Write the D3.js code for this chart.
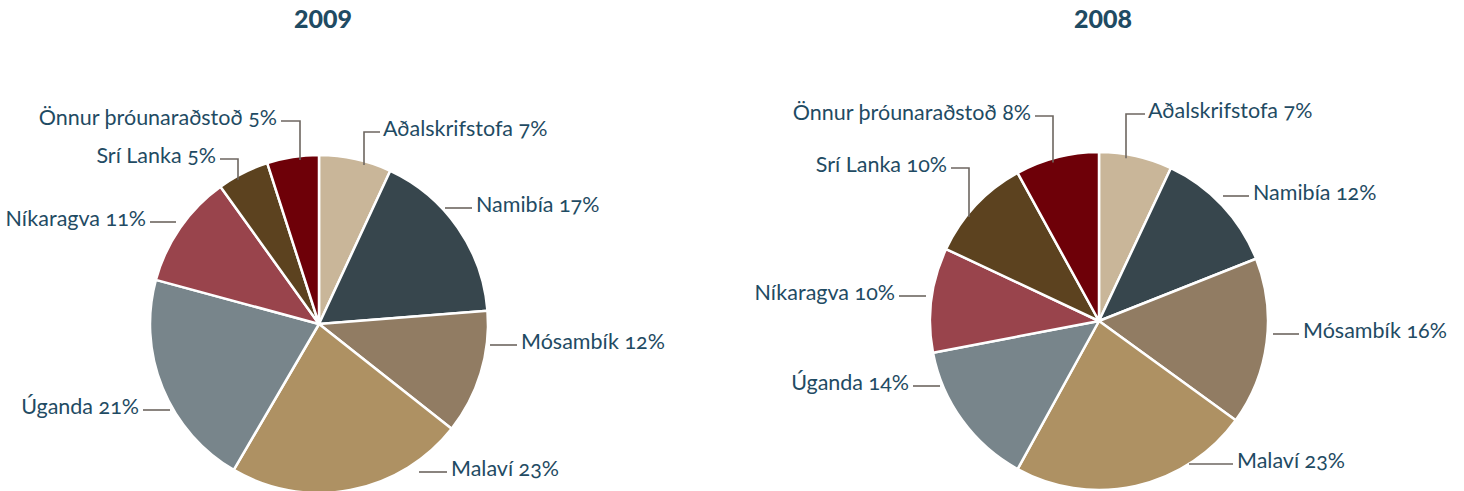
<!DOCTYPE html>
<html>
<head>
<meta charset="utf-8">
<script src="https://cdn.jsdelivr.net/npm/d3@7"></script>
<style>
  body { margin: 0; background: #fff; }
  svg { display: block; }
  .lbl { font-family: Lato, "Open Sans", sans-serif; font-size: 21.5px; fill: #1f4b63; font-variant-numeric: oldstyle-nums; }
  .ttl { font-family: Lato, sans-serif; font-weight: 900; font-size: 25px; fill: #1f4b63; }
</style>
</head>
<body>
<div id="chart"></div>
<script>
// categories, same order for both years (clockwise from 12 o'clock)
const categories = ["Aðalskrifstofa", "Namibía", "Mósambík", "Malaví", "Úganda", "Níkaragva", "Srí Lanka", "Önnur þróunaraðstoð"];
const colors = ["#c9b699", "#37464d", "#917c63", "#ae9163", "#78858b", "#99444c", "#5c421f", "#6e0008"];

const years = ["2009", "2008"];
const values2009 = [7, 17, 12, 23, 21, 11, 5, 5];
const values2008 = [7, 12, 16, 23, 14, 10, 10, 8];

// label layout, relative to pie centre: kind "h" = straight leader, "e" = elbow leader
// [kind, textX, textY(baseline), leaderX or leader length]
const layout2009 = [
  ["e", 64, -188, 45], ["h", 157, -112, 27], ["h", 202, 25, 27], ["h", 132, 152, 28],
  ["h", -180, 90, 27], ["h", -173, -98, 26], ["e", -103, -161, -81], ["e", -42, -199, -19]
];
const layout2008 = [
  ["e", 49, -203, 27], ["h", 154, -121, 26], ["h", 204, 17, 26], ["h", 138, 147, 44],
  ["h", -190, 69, 27], ["h", -204, -21, 27], ["e", -152, -149, -130], ["e", -68, -201, -46]
];

const W = 1464, H = 491, R = 169;
const pies = [
  { year: years[0], values: values2009, layout: layout2009, cx: 319, cy: 324 },
  { year: years[1], values: values2008, layout: layout2008, cx: 1099, cy: 321 }
];

const svg = d3.select("#chart").append("svg")
  .attr("width", W)
  .attr("height", H);

const pie = d3.pie().sort(null).value(d => d);
const arc = d3.arc().innerRadius(0).outerRadius(R);
const lineCol = "#6d6660";

pies.forEach(function (p) {
  svg.append("text")
    .attr("class", "ttl")
    .attr("x", p.cx + 4)
    .attr("y", 28)
    .attr("text-anchor", "middle")
    .text(p.year);

  const g = svg.append("g").attr("transform", "translate(" + p.cx + "," + p.cy + ")");

  g.selectAll("path")
    .data(pie(p.values))
    .enter().append("path")
    .attr("d", arc)
    .attr("fill", (d, i) => colors[i])
    .attr("stroke", "#fff")
    .attr("stroke-width", 2.5)
    .attr("stroke-linejoin", "round");

  p.layout.forEach(function (l, i) {
    const kind = l[0], tx = l[1], ty = l[2];
    const right = tx > 0;
    const label = categories[i] + " " + p.values[i] + "%";
    const ly = ty - 4;
    let pts;
    if (kind === "h") {
      const len = l[3];
      const x2 = right ? tx - 4 : tx + 4;
      const x1 = right ? x2 - len : x2 + len;
      pts = [[x1, ly], [x2, ly]];
    } else {
      const vx = l[3];
      const edgeY = -Math.sqrt(R * R - vx * vx) + 4;
      const hx = right ? tx - 3 : tx + 4;
      pts = [[vx, edgeY], [vx, ly], [hx, ly]];
    }
    g.append("path")
      .attr("d", d3.line()(pts))
      .attr("fill", "none")
      .attr("stroke", lineCol)
      .attr("stroke-width", 1.6);

    g.append("text")
      .attr("class", "lbl")
      .attr("x", tx)
      .attr("y", ty)
      .attr("text-anchor", right ? "start" : "end")
      .text(label);
  });
});
</script>
</body>
</html>
